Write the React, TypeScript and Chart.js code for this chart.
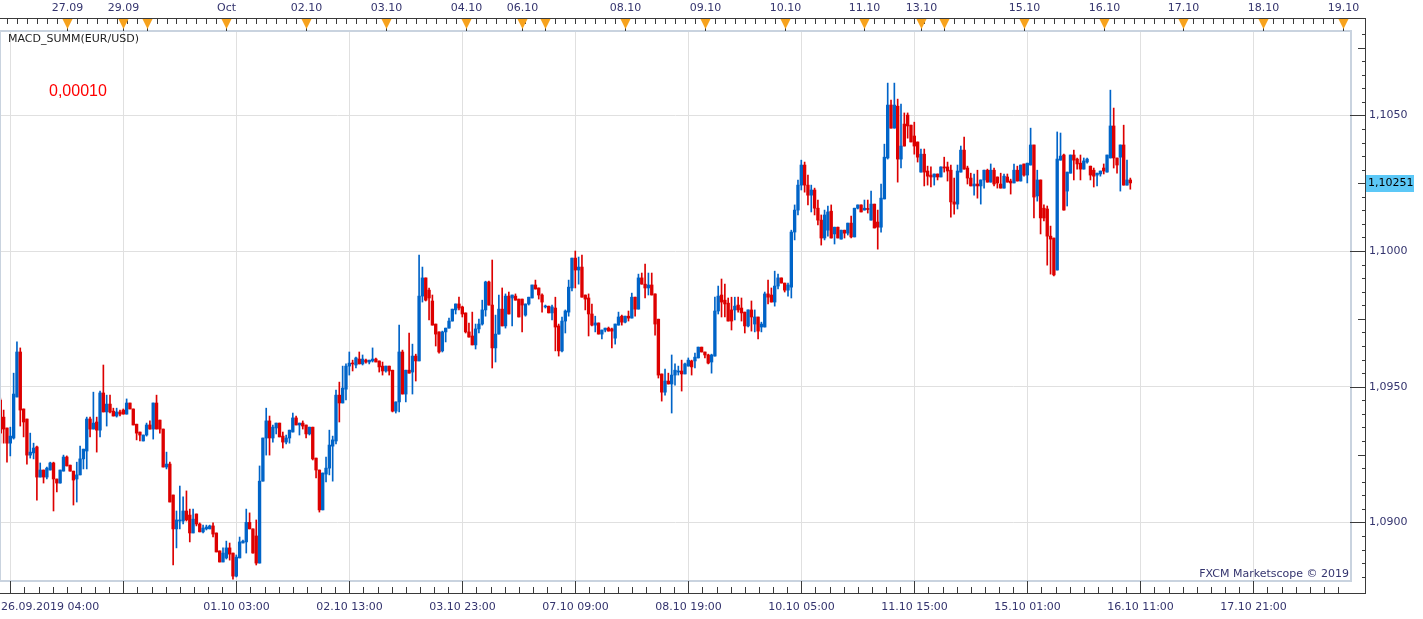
import React, { useEffect, useRef } from 'react';
import { Chart, registerables } from 'chart.js';

Chart.register(...registerables);

// Hourly EUR/USD bars, first bar = 26.09.2019 04:00
const opens = [
  1.09451, 1.09388, 1.09348, 1.09292, 1.09311, 1.09462, 1.09628, 1.09418, 1.09381, 1.09248,
  1.09256, 1.09278, 1.09167, 1.09193, 1.09167, 1.09193, 1.09219, 1.09160, 1.09145, 1.09189,
  1.09241, 1.09211, 1.09189, 1.09160, 1.09175, 1.09234, 1.09263, 1.09381, 1.09344, 1.09370,
  1.09340, 1.09477, 1.09407, 1.09436, 1.09410, 1.09392, 1.09407, 1.09414, 1.09399, 1.09440,
  1.09418, 1.09362, 1.09333, 1.09300, 1.09322, 1.09359, 1.09344, 1.09440, 1.09377, 1.09344,
  1.09204, 1.09215, 1.09101, 1.08976, 1.09005, 1.09005, 1.09042, 1.09027, 1.08961, 1.09031,
  1.08994, 1.08965, 1.08976, 1.08976, 1.08987, 1.08961, 1.08895, 1.08854, 1.08869, 1.08906,
  1.08887, 1.08802, 1.08869, 1.08924, 1.08928, 1.09000, 1.08976, 1.08950, 1.08850, 1.09152,
  1.09311, 1.09374, 1.09311, 1.09348, 1.09366, 1.09318, 1.09296, 1.09311, 1.09333, 1.09385,
  1.09359, 1.09366, 1.09359, 1.09326, 1.09351, 1.09237, 1.09193, 1.09046, 1.09178, 1.09200,
  1.09281, 1.09300, 1.09469, 1.09440, 1.09491, 1.09576, 1.09587, 1.09580, 1.09602, 1.09584,
  1.09598, 1.09591, 1.09595, 1.09602, 1.09595, 1.09576, 1.09558, 1.09576, 1.09561, 1.09410,
  1.09444, 1.09628, 1.09473, 1.09561, 1.09554, 1.09613, 1.09595, 1.09834, 1.09901, 1.09856,
  1.09816, 1.09731, 1.09702, 1.09632, 1.09702, 1.09716, 1.09742, 1.09783, 1.09805, 1.09794,
  1.09772, 1.09702, 1.09687, 1.09654, 1.09713, 1.09731, 1.09783, 1.09886, 1.09801, 1.09643,
  1.09694, 1.09786, 1.09724, 1.09834, 1.09827, 1.09834, 1.09823, 1.09823, 1.09764, 1.09805,
  1.09827, 1.09875, 1.09864, 1.09838, 1.09794, 1.09797, 1.09772, 1.09790, 1.09724, 1.09632,
  1.09742, 1.09775, 1.09864, 1.09974, 1.09930, 1.09941, 1.09838, 1.09827, 1.09768, 1.09727,
  1.09735, 1.09694, 1.09709, 1.09716, 1.09713, 1.09679, 1.09727, 1.09760, 1.09738, 1.09760,
  1.09753, 1.09830, 1.09786, 1.09901, 1.09878, 1.09864, 1.09875, 1.09842, 1.09749, 1.09547,
  1.09480, 1.09521, 1.09510, 1.09543, 1.09554, 1.09558, 1.09547, 1.09576, 1.09595, 1.09595,
  1.09606, 1.09646, 1.09628, 1.09617, 1.09591, 1.09613, 1.09779, 1.09838, 1.09819, 1.09808,
  1.09783, 1.09783, 1.09801, 1.09790, 1.09775, 1.09724, 1.09783, 1.09731, 1.09757, 1.09720,
  1.09720, 1.09842, 1.09838, 1.09812, 1.09871, 1.09901, 1.09882, 1.09856, 1.09867, 1.10070,
  1.10151, 1.10243, 1.10317, 1.10243, 1.10206, 1.10225, 1.10158, 1.10114, 1.10048, 1.10077,
  1.10147, 1.10063, 1.10088, 1.10044, 1.10077, 1.10066, 1.10103, 1.10052, 1.10158, 1.10170,
  1.10151, 1.10157, 1.10114, 1.10173, 1.10107, 1.10088, 1.10192, 1.10343, 1.10538, 1.10453,
  1.10534, 1.10339, 1.10468, 1.10501, 1.10464, 1.10424, 1.10402, 1.10291, 1.10357, 1.10295,
  1.10280, 1.10273, 1.10284, 1.10273, 1.10310, 1.10310, 1.10298, 1.10181, 1.10173, 1.10291,
  1.10372, 1.10306, 1.10269, 1.10240, 1.10247, 1.10240, 1.10262, 1.10298, 1.10254, 1.10298,
  1.10273, 1.10247, 1.10232, 1.10273, 1.10258, 1.10251, 1.10298, 1.10258, 1.10321, 1.10280,
  1.10317, 1.10391, 1.10203, 1.10262, 1.10158, 1.10155, 1.10055, 1.10048, 1.09930, 1.10335,
  1.10354, 1.10221, 1.10287, 1.10354, 1.10339, 1.10324, 1.10302, 1.10328, 1.10313, 1.10298,
  1.10280, 1.10284, 1.10306, 1.10291, 1.10343, 1.10461, 1.10343, 1.10346, 1.10391, 1.10243, 1.10262,
];

const highs = [
  1.09458, 1.09414, 1.09348, 1.09351, 1.09550, 1.09665, 1.09643, 1.09418, 1.09381, 1.09329,
  1.09292, 1.09281, 1.09219, 1.09193, 1.09204, 1.09222, 1.09222, 1.09160, 1.09193, 1.09248,
  1.09245, 1.09211, 1.09189, 1.09222, 1.09281, 1.09270, 1.09388, 1.09388, 1.09480, 1.09388,
  1.09484, 1.09580, 1.09469, 1.09469, 1.09421, 1.09421, 1.09414, 1.09418, 1.09455, 1.09440,
  1.09418, 1.09362, 1.09333, 1.09322, 1.09366, 1.09374, 1.09440, 1.09469, 1.09377, 1.09344,
  1.09259, 1.09222, 1.09101, 1.09042, 1.09134, 1.09094, 1.09116, 1.09049, 1.09049, 1.09031,
  1.08998, 1.08990, 1.08990, 1.08990, 1.08998, 1.08961, 1.08895, 1.08906, 1.08931, 1.08924,
  1.08887, 1.08880, 1.08946, 1.08935, 1.09049, 1.09035, 1.08976, 1.09009, 1.09208, 1.09311,
  1.09421, 1.09392, 1.09359, 1.09366, 1.09366, 1.09333, 1.09322, 1.09340, 1.09403, 1.09392,
  1.09366, 1.09374, 1.09359, 1.09351, 1.09351, 1.09237, 1.09193, 1.09182, 1.09241, 1.09340,
  1.09318, 1.09488, 1.09517, 1.09576, 1.09584, 1.09628, 1.09598, 1.09609, 1.09628, 1.09617,
  1.09602, 1.09598, 1.09643, 1.09606, 1.09595, 1.09591, 1.09576, 1.09576, 1.09561, 1.09444,
  1.09727, 1.09635, 1.09561, 1.09698, 1.09657, 1.09620, 1.09985, 1.09941, 1.09901, 1.09864,
  1.09838, 1.09731, 1.09702, 1.09705, 1.09716, 1.09753, 1.09786, 1.09805, 1.09830, 1.09797,
  1.09772, 1.09735, 1.09775, 1.09731, 1.09749, 1.09819, 1.09889, 1.09889, 1.09967, 1.09764,
  1.09838, 1.09864, 1.09842, 1.09849, 1.09838, 1.09842, 1.09823, 1.09823, 1.09805, 1.09830,
  1.09875, 1.09893, 1.09864, 1.09842, 1.09801, 1.09797, 1.09801, 1.09830, 1.09731, 1.09757,
  1.09783, 1.09893, 1.09974, 1.10000, 1.09978, 1.09985, 1.09838, 1.09842, 1.09805, 1.09760,
  1.09735, 1.09709, 1.09716, 1.09720, 1.09716, 1.09731, 1.09775, 1.09764, 1.09760, 1.09779,
  1.09845, 1.09830, 1.09915, 1.09919, 1.09952, 1.09919, 1.09919, 1.09842, 1.09749, 1.09547,
  1.09565, 1.09550, 1.09617, 1.09584, 1.09576, 1.09598, 1.09587, 1.09606, 1.09598, 1.09624,
  1.09646, 1.09646, 1.09628, 1.09620, 1.09620, 1.09830, 1.09871, 1.09897, 1.09878, 1.09827,
  1.09830, 1.09830, 1.09830, 1.09827, 1.09775, 1.09783, 1.09816, 1.09783, 1.09757, 1.09738,
  1.09849, 1.09893, 1.09864, 1.09926, 1.09915, 1.09901, 1.09882, 1.09882, 1.10077, 1.10170,
  1.10262, 1.10335, 1.10328, 1.10280, 1.10243, 1.10232, 1.10188, 1.10133, 1.10151, 1.10166,
  1.10170, 1.10088, 1.10088, 1.10077, 1.10077, 1.10103, 1.10129, 1.10158, 1.10170, 1.10170,
  1.10188, 1.10188, 1.10221, 1.10173, 1.10151, 1.10247, 1.10394, 1.10619, 1.10556, 1.10619,
  1.10560, 1.10542, 1.10509, 1.10509, 1.10464, 1.10475, 1.10402, 1.10376, 1.10376, 1.10313,
  1.10310, 1.10284, 1.10284, 1.10310, 1.10346, 1.10328, 1.10317, 1.10269, 1.10317, 1.10387,
  1.10420, 1.10313, 1.10287, 1.10284, 1.10298, 1.10262, 1.10298, 1.10302, 1.10321, 1.10306,
  1.10273, 1.10287, 1.10284, 1.10284, 1.10265, 1.10321, 1.10313, 1.10317, 1.10321, 1.10324,
  1.10453, 1.10391, 1.10298, 1.10262, 1.10170, 1.10166, 1.10092, 1.10048, 1.10439, 1.10435,
  1.10357, 1.10291, 1.10354, 1.10372, 1.10343, 1.10354, 1.10343, 1.10343, 1.10313, 1.10306,
  1.10287, 1.10295, 1.10321, 1.10354, 1.10593, 1.10527, 1.10343, 1.10391, 1.10464, 1.10335, 1.10269,
];

const lows = [
  1.09292, 1.09292, 1.09222, 1.09245, 1.09307, 1.09462, 1.09355, 1.09315, 1.09215, 1.09237,
  1.09234, 1.09082, 1.09167, 1.09145, 1.09160, 1.09193, 1.09042, 1.09112, 1.09145, 1.09189,
  1.09208, 1.09189, 1.09064, 1.09075, 1.09175, 1.09197, 1.09197, 1.09315, 1.09344, 1.09259,
  1.09315, 1.09407, 1.09355, 1.09403, 1.09392, 1.09388, 1.09392, 1.09399, 1.09399, 1.09418,
  1.09359, 1.09304, 1.09300, 1.09300, 1.09318, 1.09344, 1.09307, 1.09344, 1.09329, 1.09204,
  1.09197, 1.09075, 1.08843, 1.08906, 1.08976, 1.08994, 1.09005, 1.08928, 1.08961, 1.08987,
  1.08965, 1.08961, 1.08972, 1.08976, 1.08946, 1.08891, 1.08854, 1.08854, 1.08865, 1.08861,
  1.08791, 1.08799, 1.08869, 1.08924, 1.08887, 1.08976, 1.08887, 1.08843, 1.08850, 1.09152,
  1.09248, 1.09248, 1.09296, 1.09326, 1.09315, 1.09274, 1.09289, 1.09292, 1.09333, 1.09359,
  1.09322, 1.09344, 1.09311, 1.09322, 1.09230, 1.09164, 1.09038, 1.09046, 1.09149, 1.09175,
  1.09152, 1.09289, 1.09370, 1.09440, 1.09451, 1.09543, 1.09558, 1.09569, 1.09584, 1.09580,
  1.09587, 1.09584, 1.09591, 1.09591, 1.09554, 1.09543, 1.09554, 1.09543, 1.09407, 1.09403,
  1.09407, 1.09473, 1.09444, 1.09550, 1.09473, 1.09521, 1.09595, 1.09812, 1.09816, 1.09746,
  1.09727, 1.09650, 1.09624, 1.09628, 1.09665, 1.09716, 1.09742, 1.09768, 1.09783, 1.09757,
  1.09698, 1.09683, 1.09654, 1.09639, 1.09698, 1.09727, 1.09760, 1.09801, 1.09569, 1.09591,
  1.09694, 1.09724, 1.09716, 1.09768, 1.09724, 1.09819, 1.09757, 1.09702, 1.09760, 1.09801,
  1.09827, 1.09860, 1.09823, 1.09775, 1.09790, 1.09772, 1.09746, 1.09632, 1.09613, 1.09628,
  1.09698, 1.09760, 1.09853, 1.09864, 1.09878, 1.09830, 1.09783, 1.09687, 1.09724, 1.09702,
  1.09694, 1.09676, 1.09702, 1.09705, 1.09643, 1.09657, 1.09727, 1.09727, 1.09735, 1.09742,
  1.09753, 1.09760, 1.09786, 1.09878, 1.09827, 1.09838, 1.09838, 1.09690, 1.09532, 1.09447,
  1.09469, 1.09510, 1.09403, 1.09506, 1.09543, 1.09484, 1.09547, 1.09576, 1.09543, 1.09569,
  1.09606, 1.09628, 1.09606, 1.09584, 1.09550, 1.09613, 1.09768, 1.09757, 1.09757, 1.09742,
  1.09709, 1.09746, 1.09775, 1.09742, 1.09698, 1.09720, 1.09705, 1.09702, 1.09676, 1.09702,
  1.09720, 1.09805, 1.09812, 1.09797, 1.09860, 1.09882, 1.09849, 1.09834, 1.09827, 1.10041,
  1.10133, 1.10225, 1.10217, 1.10170, 1.10144, 1.10133, 1.10096, 1.10022, 1.10041, 1.10055,
  1.10048, 1.10026, 1.10048, 1.10044, 1.10048, 1.10059, 1.10048, 1.10052, 1.10155, 1.10144,
  1.10151, 1.10140, 1.10114, 1.10085, 1.10007, 1.10070, 1.10192, 1.10339, 1.10453, 1.10453,
  1.10254, 1.10306, 1.10387, 1.10416, 1.10402, 1.10357, 1.10328, 1.10291, 1.10240, 1.10243,
  1.10236, 1.10243, 1.10262, 1.10273, 1.10291, 1.10258, 1.10125, 1.10136, 1.10155, 1.10291,
  1.10302, 1.10247, 1.10240, 1.10206, 1.10195, 1.10173, 1.10232, 1.10254, 1.10254, 1.10240,
  1.10232, 1.10232, 1.10232, 1.10254, 1.10210, 1.10251, 1.10258, 1.10258, 1.10276, 1.10251,
  1.10317, 1.10122, 1.10184, 1.10063, 1.10111, 1.09948, 1.09915, 1.09908, 1.09930, 1.10335,
  1.10151, 1.10166, 1.10287, 1.10262, 1.10302, 1.10262, 1.10302, 1.10324, 1.10262, 1.10236,
  1.10240, 1.10276, 1.10284, 1.10291, 1.10343, 1.10306, 1.10287, 1.10221, 1.10243, 1.10243, 1.10228,
];

const closes = [
  1.09329, 1.09344, 1.09292, 1.09318, 1.09473, 1.09628, 1.09414, 1.09370, 1.09248, 1.09259,
  1.09274, 1.09167, 1.09193, 1.09167, 1.09200, 1.09219, 1.09160, 1.09145, 1.09193, 1.09241,
  1.09208, 1.09189, 1.09156, 1.09175, 1.09234, 1.09270, 1.09381, 1.09344, 1.09366, 1.09340,
  1.09477, 1.09407, 1.09436, 1.09407, 1.09392, 1.09407, 1.09399, 1.09399, 1.09440, 1.09418,
  1.09359, 1.09329, 1.09322, 1.09322, 1.09359, 1.09344, 1.09440, 1.09344, 1.09344, 1.09204,
  1.09215, 1.09075, 1.08976, 1.09009, 1.09009, 1.09042, 1.09009, 1.08961, 1.09012, 1.08994,
  1.08965, 1.08979, 1.08983, 1.08987, 1.08957, 1.08891, 1.08854, 1.08887, 1.08906, 1.08883,
  1.08802, 1.08872, 1.08928, 1.08931, 1.09000, 1.08976, 1.08887, 1.08850, 1.09152, 1.09311,
  1.09374, 1.09311, 1.09351, 1.09366, 1.09315, 1.09296, 1.09311, 1.09340, 1.09385, 1.09359,
  1.09366, 1.09355, 1.09326, 1.09351, 1.09234, 1.09193, 1.09046, 1.09182, 1.09200, 1.09285,
  1.09304, 1.09469, 1.09440, 1.09495, 1.09576, 1.09587, 1.09584, 1.09606, 1.09584, 1.09602,
  1.09591, 1.09598, 1.09602, 1.09591, 1.09573, 1.09558, 1.09576, 1.09558, 1.09410, 1.09444,
  1.09628, 1.09473, 1.09561, 1.09550, 1.09613, 1.09595, 1.09834, 1.09901, 1.09819, 1.09827,
  1.09727, 1.09694, 1.09628, 1.09702, 1.09716, 1.09742, 1.09786, 1.09805, 1.09790, 1.09768,
  1.09702, 1.09683, 1.09654, 1.09713, 1.09731, 1.09783, 1.09886, 1.09801, 1.09643, 1.09694,
  1.09786, 1.09724, 1.09834, 1.09768, 1.09838, 1.09819, 1.09757, 1.09801, 1.09805, 1.09830,
  1.09875, 1.09860, 1.09838, 1.09812, 1.09797, 1.09772, 1.09794, 1.09720, 1.09632, 1.09742,
  1.09779, 1.09867, 1.09974, 1.09930, 1.09941, 1.09830, 1.09823, 1.09768, 1.09727, 1.09735,
  1.09694, 1.09709, 1.09716, 1.09705, 1.09705, 1.09731, 1.09757, 1.09738, 1.09760, 1.09753,
  1.09830, 1.09786, 1.09901, 1.09878, 1.09864, 1.09875, 1.09838, 1.09731, 1.09543, 1.09480,
  1.09521, 1.09510, 1.09543, 1.09561, 1.09558, 1.09547, 1.09584, 1.09598, 1.09573, 1.09609,
  1.09646, 1.09628, 1.09617, 1.09587, 1.09617, 1.09779, 1.09834, 1.09812, 1.09805, 1.09742,
  1.09742, 1.09797, 1.09783, 1.09772, 1.09724, 1.09783, 1.09757, 1.09757, 1.09705, 1.09731,
  1.09842, 1.09830, 1.09812, 1.09871, 1.09901, 1.09882, 1.09856, 1.09875, 1.10070, 1.10151,
  1.10243, 1.10317, 1.10243, 1.10206, 1.10225, 1.10158, 1.10114, 1.10048, 1.10133, 1.10144,
  1.10048, 1.10088, 1.10048, 1.10077, 1.10066, 1.10103, 1.10052, 1.10158, 1.10170, 1.10144,
  1.10158, 1.10153, 1.10173, 1.10085, 1.10088, 1.10195, 1.10346, 1.10538, 1.10453, 1.10538,
  1.10339, 1.10387, 1.10387, 1.10461, 1.10402, 1.10387, 1.10346, 1.10357, 1.10291, 1.10276,
  1.10273, 1.10284, 1.10273, 1.10310, 1.10306, 1.10295, 1.10181, 1.10173, 1.10295, 1.10372,
  1.10302, 1.10269, 1.10240, 1.10247, 1.10240, 1.10262, 1.10298, 1.10254, 1.10298, 1.10247,
  1.10251, 1.10232, 1.10276, 1.10254, 1.10251, 1.10298, 1.10258, 1.10317, 1.10280, 1.10324,
  1.10391, 1.10199, 1.10262, 1.10122, 1.10122, 1.10055, 1.10044, 1.09912, 1.10339, 1.10350,
  1.10151, 1.10291, 1.10354, 1.10335, 1.10321, 1.10302, 1.10332, 1.10339, 1.10280, 1.10276,
  1.10287, 1.10295, 1.10295, 1.10354, 1.10461, 1.10343, 1.10317, 1.10391, 1.10243, 1.10262, 1.10251,
];

// Axis annotations (bar indices on the hourly axis)
const topDayIndex = [20, 37, 44, 68, 92, 116, 140, 157, 164, 188, 212, 236, 260, 277, 284, 308, 332, 356, 380, 404];
const topDayLabels = ['27.09', '29.09', '', 'Oct', '02.10', '03.10', '04.10', '06.10', '', '08.10', '09.10', '10.10', '11.10', '13.10', '', '15.10', '16.10', '17.10', '18.10', '19.10'];
const gridIndex = [3, 37, 71, 105, 139, 173, 207, 241, 275, 309, 343, 377];
const bottomLabels = ['', '', '01.10 03:00', '02.10 13:00', '03.10 23:00', '07.10 09:00', '08.10 19:00', '10.10 05:00', '11.10 15:00', '15.10 01:00', '16.10 11:00', '17.10 21:00'];
const firstBarLabel = '26.09.2019 04:00';
const yTickValues = [1.09, 1.095, 1.1, 1.105];
const lastPriceLabel = '1,10251';
const indicatorTitle = 'MACD_SUMM(EUR/USD)';
const indicatorValue = '0,00010';
const copyright = 'FXCM Marketscope © 2019';

const UP = '#0064c8';
const DOWN = '#dd0000';
const TEXT = '#34346e';
const GRID = '#e0e0e0';
const FRAME = '#c9d3df';
const AXIS = '#3a3a3a';
const FONT = '"DejaVu Sans", Verdana, sans-serif';

export default function App() {
  const ref = useRef<HTMLCanvasElement | null>(null);

  useEffect(() => {
    document.body.style.margin = '0';
    const idx = closes.map((_, i) => i);
    const colors = idx.map((i) => (closes[i] >= opens[i] ? UP : DOWN));

    const decor = {
      id: 'decor',
      afterDraw(chart: any) {
        const ctx = chart.ctx;
        const ca = chart.chartArea;
        const xs = chart.scales.x;
        const ys = chart.scales.y;
        const px = (v: number) => Math.round(xs.getPixelForValue(v));
        ctx.save();

        // plot frame
        ctx.fillStyle = FRAME;
        ctx.fillRect(0, ca.top - 1, ca.right + 1, 2);
        ctx.fillRect(0, ca.bottom - 1, ca.right + 1, 2);
        ctx.fillRect(ca.right - 1, ca.top - 1, 2, ca.bottom - ca.top + 2);
        ctx.fillRect(0, ca.top - 1, 1, ca.bottom - ca.top + 2);

        // top time axis
        ctx.fillStyle = AXIS;
        ctx.fillRect(0, 18, 1366, 1);
        for (let i = 2; i <= xs.max; i += 3) {
          ctx.fillRect(px(i), 19, 1, 5);
        }
        topDayIndex.forEach((d) => {
          const cx = px(d);
          ctx.fillStyle = AXIS;
          ctx.fillRect(cx, 19, 1, 12);
          ctx.fillStyle = '#f7a21c';
          ctx.beginPath();
          ctx.moveTo(cx - 4.5, 19);
          ctx.lineTo(cx + 5.5, 19);
          ctx.lineTo(cx + 0.5, 29);
          ctx.closePath();
          ctx.fill();
        });
        ctx.fillStyle = TEXT;
        ctx.font = `11px ${FONT}`;
        ctx.textBaseline = 'middle';
        ctx.textAlign = 'center';
        topDayIndex.forEach((d, k) => {
          if (topDayLabels[k]) ctx.fillText(topDayLabels[k], px(d) + 0.5, 8);
        });

        // bottom time axis
        ctx.fillStyle = AXIS;
        ctx.fillRect(0, 593, 1366, 1);
        for (let k = 0; ; k++) {
          const v = gridIndex[0] + k * 4.25;
          if (v > xs.max) break;
          const x = px(v);
          if (k % 8 === 0) ctx.fillRect(x, ca.bottom, 1, 593 - ca.bottom);
          else ctx.fillRect(x, 587, 1, 6);
        }
        ctx.fillStyle = TEXT;
        ctx.textAlign = 'left';
        ctx.fillText(firstBarLabel, 1, 607);
        ctx.textAlign = 'center';
        gridIndex.forEach((g, k) => {
          if (bottomLabels[k]) ctx.fillText(bottomLabels[k], px(g) + 0.5, 607);
        });

        // right price axis
        ctx.fillStyle = AXIS;
        ctx.fillRect(1365, 18, 1, 576);
        for (let p = 10870; p <= 11090; p += 5) {
          const y = Math.round(ys.getPixelForValue(p / 10000));
          if (y < ca.top || y > ca.bottom) continue;
          if (p % 50 === 0) ctx.fillRect(ca.right - 1, y, 16, 1);
          else if (p % 25 === 0) ctx.fillRect(1358, y, 8, 1);
          else ctx.fillRect(1362, y, 4, 1);
        }

        // last price marker
        const ly = Math.round(ys.getPixelForValue(closes[closes.length - 1]));
        ctx.fillStyle = '#5cc8f7';
        ctx.fillRect(1366, ly - 8, 48, 17);
        ctx.fillStyle = '#000000';
        ctx.textAlign = 'left';
        ctx.fillText(lastPriceLabel, 1368, ly + 0.5);

        // indicator / copyright texts
        ctx.fillStyle = '#1e1e1e';
        ctx.fillText(indicatorTitle, 8, 39);
        ctx.fillStyle = TEXT;
        ctx.textAlign = 'right';
        ctx.fillText(copyright, 1349, 574);
        ctx.fillStyle = '#ff0000';
        ctx.textAlign = 'left';
        ctx.font = '16px "Liberation Sans", Arial, sans-serif';
        ctx.fillText(indicatorValue, 49, 92);

        ctx.restore();
      },
    };

    const chart = new Chart(ref.current as HTMLCanvasElement, {
      type: 'bar',
      data: {
        datasets: [
          {
            label: 'body',
            data: idx.map((i) => ({ x: i, y: [opens[i], closes[i]] })) as any,
            backgroundColor: colors,
            barThickness: 2.7,
            minBarLength: 1,
            grouped: false,
          },
          {
            label: 'wick',
            data: idx.map((i) => ({ x: i, y: [lows[i], highs[i]] })) as any,
            backgroundColor: colors,
            barThickness: 1,
            grouped: false,
          },
        ],
      },
      options: {
        responsive: false,
        animation: false,
        devicePixelRatio: 1,
        events: [],
        layout: { padding: { top: 31, left: 0, right: 0, bottom: 0 } },
        plugins: { legend: { display: false }, tooltip: { enabled: false } },
        scales: {
          x: {
            type: 'linear',
            position: 'bottom',
            min: -0.1,
            max: 406.4,
            offset: false,
            afterBuildTicks: (s: any) => {
              s.ticks = gridIndex.map((v) => ({ value: v }));
            },
            afterFit: (s: any) => {
              s.height = 38;
            },
            ticks: { display: false },
            grid: { color: GRID, lineWidth: 1, drawTicks: false, offset: false },
            border: { display: false },
          },
          y: {
            type: 'linear',
            position: 'right',
            min: 1.08784,
            max: 1.10811,
            afterBuildTicks: (s: any) => {
              s.ticks = yTickValues.map((v) => ({ value: v }));
            },
            afterFit: (s: any) => {
              s.width = 72;
            },
            ticks: {
              color: TEXT,
              font: { family: FONT, size: 11 },
              padding: 18,
              callback: (v: any) => Number(v).toFixed(4).replace('.', ','),
            },
            grid: { color: GRID, lineWidth: 1, drawTicks: false },
            border: { display: false },
          },
        },
      } as any,
      plugins: [decor],
    });
    return () => chart.destroy();
  }, []);

  return (
    <div style={{ position: 'absolute', left: 0, top: 0, width: 1423, height: 619, background: '#ffffff' }}>
      <canvas ref={ref} width={1423} height={619} style={{ display: 'block', width: 1423, height: 619 }} />
    </div>
  );
}
